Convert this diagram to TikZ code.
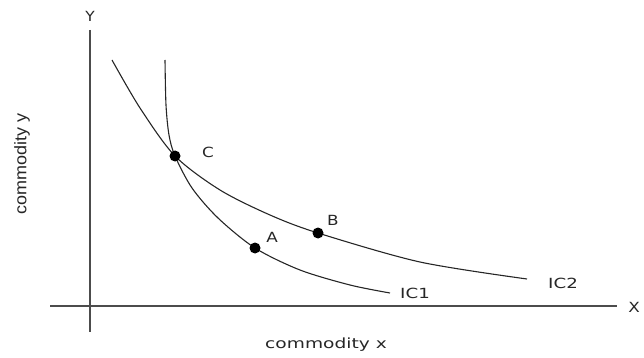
\documentclass[tikz,border=0pt]{standalone}
\usepackage{fontspec}
\setmainfont{DejaVu Sans}
\newfontfamily\narrowfont{Liberation Sans}
\begin{document}
\begin{tikzpicture}[x=1pt,y=-1pt,
  curve/.style={line width=1.1pt, black!85},
  axis/.style={line width=1.4pt, black!70},
  dot/.style={circle, fill=black, inner sep=0pt, minimum size=11pt},
  lbl/.style={font=\fontsize{14}{16}\selectfont, text=black!85, inner sep=0pt}]
\useasboundingbox (0,0) rectangle (644,358);
% axes
\coordinate (ytop) at (90,30);
\coordinate (ybot) at (90,332);
\coordinate (xl) at (50,306);
\coordinate (xr) at (617,306);
\draw[axis] (ytop) -- (ybot);
\draw[axis] (xl) -- (xr);
\node[lbl, xscale=1.1] (Y) at (90,16) {Y};
\node[lbl, xscale=1.2] (X) at (634,307) {X};
\node[lbl, xscale=1.33] (cx) at (326,345) {commodity x};
\node[lbl, font=\narrowfont\fontsize{18}{20}\selectfont, xscale=0.93, rotate=90] (cy) at (22,164) {commodity y};
% curves
\draw[curve] plot[smooth, tension=0.5] coordinates {(165,60) (166,105) (169,135) (175,156) (192,188) (218,218) (255,248) (300,270) (350,285) (390,293)};
\draw[curve] plot[smooth, tension=0.5] coordinates {(112,60) (140,108) (175,156) (220,190) (270,215) (318,233) (420,262) (527,279)};
% points
\node[dot] (C) at (175,156) {};
\node[dot] (A) at (255,248) {};
\node[dot] (B) at (318,233) {};
\node[lbl, xscale=1.2] (Cl) at (208,152) {C};
\node[lbl, xscale=1.2] (Bl) at (333,220) {B};
\node[lbl, xscale=1.2] (Al) at (272,237) {A};
\node[lbl, xscale=1.3] (ic1) at (415,293) {IC1};
\node[lbl, xscale=1.3] (ic2) at (563,283) {IC2};
\end{tikzpicture}
\end{document}
